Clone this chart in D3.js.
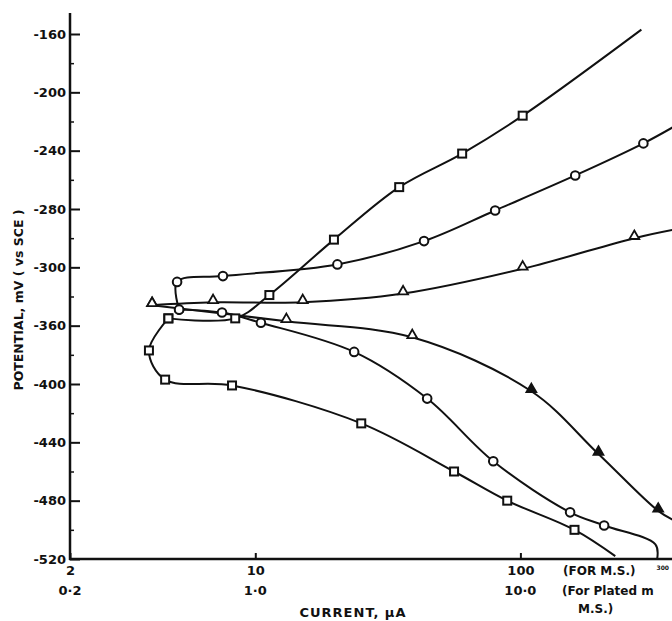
<!DOCTYPE html>
<html>
<head>
<meta charset="utf-8">
<script src="https://cdn.jsdelivr.net/npm/d3@7"></script>
<style>
  body { margin: 0; background: #fff; }
  text { font-family: "DejaVu Sans", sans-serif; font-weight: bold; fill: #111; }
</style>
</head>
<body>
<svg id="chart" width="672" height="621"></svg>
<script>
// current in µA (upper scale), potential in mV vs SCE
// mark: 1 = plotted symbol, 0 = curve only
const sqAnodicI = [4.7, 8.4, 11.3, 19.8, 34.9, 60.3, 102, 286];
const sqAnodicE = [-355, -355, -339, -301, -265, -242, -216, -157];
const sqAnodicMark = [1, 1, 1, 1, 1, 1, 1, 0];

const sqCathodicI = [4.7, 3.97, 4.57, 8.17, 25.1, 56.2, 89.2, 160, 228];
const sqCathodicE = [-355, -377, -397, -401, -427, -460, -480, -500, -518];
const sqCathodicMark = [1, 1, 1, 1, 1, 1, 1, 1, 0];

const ciAnodicI = [5.16, 5.07, 7.55, 20.4, 43.3, 80.3, 161, 291, 384];
const ciAnodicE = [-349, -330, -326, -318, -302, -281, -257, -235, -223];
const ciAnodicMark = [1, 1, 1, 1, 1, 1, 1, 1, 0];

const ciCathodicI = [5.16, 7.49, 10.5, 23.6, 44.5, 79, 154, 207, 323, 328];
const ciCathodicE = [-349, -351, -358, -378, -410, -453, -488, -497, -510, -520];
const ciCathodicMark = [1, 1, 1, 1, 1, 1, 1, 1, 0, 0];

const trAnodicI = [4.08, 6.93, 15.1, 36.1, 102, 269, 384];
const trAnodicE = [-346, -344, -344, -338, -321, -300, -294];
const trAnodicMark = [1, 1, 1, 1, 1, 1, 0];

const trCathodicI = [4.08, 13.1, 39.1, 110, 197, 331, 384];
const trCathodicE = [-346, -357, -368, -405, -448, -487, -494];
const trCathodicMark = [1, 1, 1, 1, 1, 1, 0];

const yTicks = [-160, -200, -240, -280, -320, -360, -400, -440, -480, -520];
const yTickLabels = ["-160", "-200", "-240", "-280", "-300", "-360", "-400", "-440", "-480", "-520"];
const xTicks = [2, 10, 100];
const xTickLabels = ["2", "10", "100"];
const xTickLabels2 = ["0·2", "1·0", "10·0"];

const svg = d3.select("#chart");
svg.append("rect").attr("width", 672).attr("height", 621).attr("fill", "#fff");

const x = d3.scaleLog().domain([2, 400]).range([70, 680]);
const y = d3.scaleLinear().domain([-160, -520]).range([34, 559]);

// y axis
const yAxis = d3.axisLeft(y)
  .tickValues(yTicks)
  .tickFormat((d, i) => yTickLabels[i])
  .tickSizeInner(-10).tickSizeOuter(0).tickPadding(4);
const gy = svg.append("g").attr("transform", "translate(70,0)").call(yAxis);
gy.select(".domain").remove();
gy.selectAll(".tick line").attr("stroke", "#111").attr("stroke-width", 2);
gy.selectAll(".tick text").style("font-size", "13px").attr("fill", "#111");

const yMinor = d3.axisLeft(y)
  .tickValues(d3.range(-180, -520, -40))
  .tickFormat("").tickSizeInner(-4).tickSizeOuter(0);
const gym = svg.append("g").attr("transform", "translate(70,0)").call(yMinor);
gym.select(".domain").remove();
gym.selectAll(".tick line").attr("stroke", "#111").attr("stroke-width", 1.5);

// x axis
const xAxis = d3.axisBottom(x)
  .tickValues(xTicks)
  .tickFormat((d, i) => xTickLabels[i])
  .tickSizeInner(-6).tickSizeOuter(0).tickPadding(7);
const gx = svg.append("g").attr("transform", "translate(0,559)").call(xAxis);
gx.select(".domain").remove();
gx.selectAll(".tick line").attr("stroke", "#111").attr("stroke-width", 2);
gx.selectAll(".tick text").style("font-size", "13px").attr("fill", "#111");

svg.append("g").selectAll("text")
  .data(xTicks)
  .join("text")
  .attr("x", d => x(d))
  .attr("y", 595)
  .attr("text-anchor", "middle")
  .style("font-size", "13px")
  .text((d, i) => xTickLabels2[i]);

// axis lines
svg.append("line").attr("x1", 70).attr("x2", 70).attr("y1", 13).attr("y2", 560)
  .attr("stroke", "#111").attr("stroke-width", 2.5);
svg.append("line").attr("x1", 69).attr("x2", 672).attr("y1", 559).attr("y2", 559)
  .attr("stroke", "#111").attr("stroke-width", 2.5);

// axis titles
svg.append("text")
  .attr("transform", "translate(23,300) rotate(-90)")
  .attr("text-anchor", "middle")
  .style("font-size", "12.5px")
  .text("POTENTIAL, mV ( vs SCE )");

svg.append("text")
  .attr("x", 353).attr("y", 617)
  .attr("text-anchor", "middle")
  .style("font-size", "13px")
  .style("letter-spacing", "1px")
  .text("CURRENT, μA");

svg.append("text").attr("x", 563).attr("y", 575).style("font-size", "12px").text("(FOR M.S.)");
svg.append("text").attr("x", 669).attr("y", 570).attr("text-anchor", "end").style("font-size", "6px").text("300");
svg.append("text").attr("x", 562).attr("y", 595).style("font-size", "12px").text("(For Plated m");
svg.append("text").attr("x", 578).attr("y", 613).style("font-size", "12px").text("M.S.)");

// curves
const series = [
  { I: sqAnodicI, E: sqAnodicE, M: sqAnodicMark, sym: "square" },
  { I: sqCathodicI, E: sqCathodicE, M: sqCathodicMark, sym: "square" },
  { I: ciAnodicI, E: ciAnodicE, M: ciAnodicMark, sym: "circle" },
  { I: ciCathodicI, E: ciCathodicE, M: ciCathodicMark, sym: "circle" },
  { I: trAnodicI, E: trAnodicE, M: trAnodicMark, sym: "triangle" },
  { I: trCathodicI, E: trCathodicE, M: trCathodicMark, sym: "triangle", fillFrom: 100 }
];

const line = d3.line()
  .x(d => x(d[0]))
  .y(d => y(d[1]))
  .curve(d3.curveCatmullRom.alpha(0.5));

const plot = svg.append("g");
plot.append("defs").append("clipPath").attr("id", "clip")
  .append("rect").attr("x", 70).attr("y", 0).attr("width", 602).attr("height", 560);

series.forEach(s => {
  const pts = s.I.map((v, i) => [v, s.E[i], s.M[i]]);
  plot.append("path")
    .datum(pts)
    .attr("clip-path", "url(#clip)")
    .attr("fill", "none")
    .attr("stroke", "#111")
    .attr("stroke-width", 2)
    .attr("d", line);
});

series.forEach(s => {
  const pts = s.I.map((v, i) => [v, s.E[i], s.M[i]]).filter(p => p[2] === 1);
  const g = plot.append("g");
  if (s.sym === "square") {
    g.selectAll("rect").data(pts).join("rect")
      .attr("x", d => x(d[0]) - 4).attr("y", d => y(d[1]) - 4)
      .attr("width", 8).attr("height", 8)
      .attr("fill", "#fff").attr("stroke", "#111").attr("stroke-width", 2);
  } else if (s.sym === "circle") {
    g.selectAll("circle").data(pts).join("circle")
      .attr("cx", d => x(d[0])).attr("cy", d => y(d[1])).attr("r", 4.3)
      .attr("fill", "#fff").attr("stroke", "#111").attr("stroke-width", 2);
  } else {
    g.selectAll("path").data(pts).join("path")
      .attr("transform", d => `translate(${x(d[0])},${y(d[1]) - 2})`)
      .attr("d", d3.symbol(d3.symbolTriangle, 42))
      .attr("fill", d => (s.fillFrom && d[0] >= s.fillFrom) ? "#111" : "#fff")
      .attr("stroke", "#111").attr("stroke-width", 1.8);
  }
});
</script>
</body>
</html>
